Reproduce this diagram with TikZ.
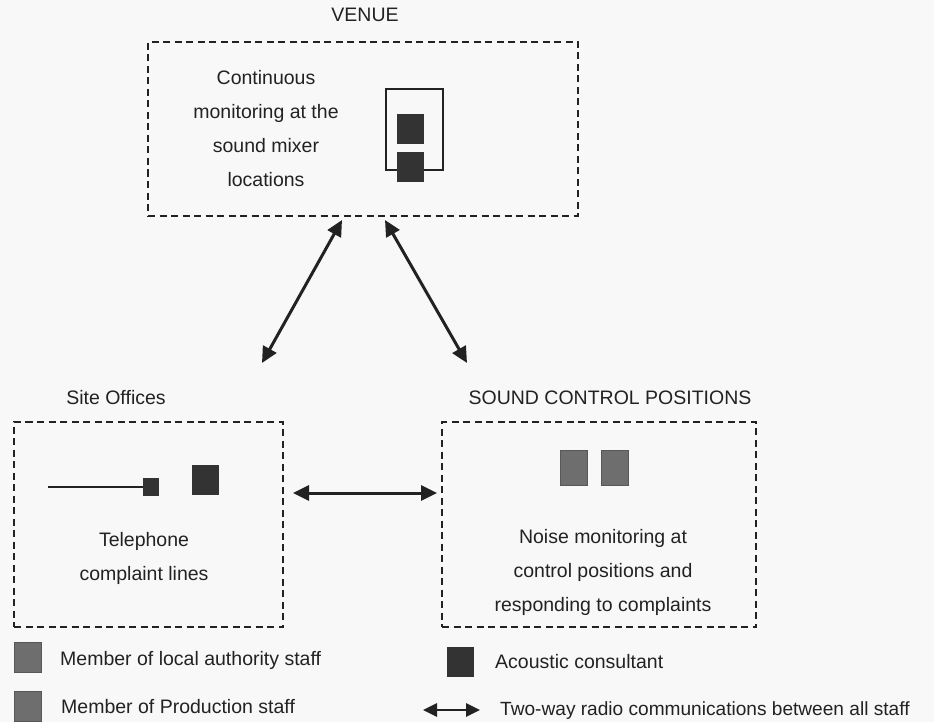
\documentclass[tikz,border=0pt]{standalone}
\usepackage{fontspec}
\setmainfont{Liberation Sans}
\usetikzlibrary{arrows.meta}
\definecolor{ink}{HTML}{222222}
\definecolor{consult}{HTML}{333333}
\definecolor{staff}{HTML}{6E6E6E}
\definecolor{paper}{HTML}{F8F8F8}
\begin{document}
\begin{tikzpicture}[x=1pt, y=-1pt,
  every node/.style={text=ink, font=\fontsize{19.5}{34}\selectfont},
  zone/.style={draw=ink, line width=2.2pt, dash pattern=on 7pt off 4.5pt, inner sep=0pt},
  consultant/.style={fill=consult, draw=none, minimum width=27pt, minimum height=30pt, inner sep=0pt},
  member/.style={fill=staff, draw=staff!80!black, line width=0.5pt, minimum width=27pt, minimum height=30pt, inner sep=0pt},
  radio/.style={draw=ink, line width=3pt, {Triangle[length=16pt,width=15pt]}-{Triangle[length=16pt,width=15pt]}},
  label/.style={align=center, inner sep=0pt}]
  \useasboundingbox[fill=paper] (0,0) rectangle (934,722);

  % venue
  \node[zone, minimum width=430pt, minimum height=174pt] (venue) at (363,129) {};
  \node[label] (venuetitle) at (365,15) {VENUE};
  \node[label] (venuetext) at (266,129) {Continuous\\monitoring at the\\sound mixer\\locations};
  \node[draw=ink, line width=2.4pt, minimum width=57pt, minimum height=81pt, inner sep=0pt] (mixer) at (414.5,129.5) {};
  \node[consultant] (mixerA) at (410.5,129) {};
  \node[consultant] (mixerB) at (410.5,167) {};

  % site offices
  \node[zone, minimum width=269pt, minimum height=205pt] (site) at (148.5,524.5) {};
  \node[label] (sitetitle) at (116,398) {Site Offices};
  \node[consultant, minimum width=16pt, minimum height=18pt] (phone) at (151,487) {};
  \coordinate (phoneline) at (48,487);
  \draw[ink, line width=2pt] (phoneline) -- (phone);
  \node[consultant] (siteconsult) at (205.5,480) {};
  \node[label] (sitetext) at (144,558) {Telephone\\complaint lines};

  % sound control positions
  \node[zone, minimum width=314pt, minimum height=205pt] (sound) at (599,524.5) {};
  \node[label] (soundtitle) at (610,398) {SOUND CONTROL POSITIONS};
  \node[member, minimum height=35pt] (soundA) at (573.5,467.5) {};
  \node[member, minimum height=35pt] (soundB) at (614.5,467.5) {};
  \node[label] (soundtext) at (603,572) {Noise monitoring at\\control positions and\\responding to complaints};

  % radio links
  \coordinate (venueL) at (342,220);
  \coordinate (venueR) at (385,220);
  \coordinate (siteup) at (262,363);
  \coordinate (soundup) at (467,363);
  \coordinate (siteside) at (293,493);
  \coordinate (soundside) at (437,493);
  \draw[radio] (venueL) -- (siteup);
  \draw[radio] (venueR) -- (soundup);
  \draw[radio] (siteside) -- (soundside);

  % key
  \node[member] (keyLA) at (28,657) {};
  \node[anchor=west, inner sep=0pt] (keyLAtext) at (60,660) {Member of local authority staff};
  \node[member] (keyProd) at (28,706) {};
  \node[anchor=west, inner sep=0pt] (keyProdtext) at (61,707) {Member of Production staff};
  \node[consultant] (keyAC) at (460.5,662) {};
  \node[anchor=west, inner sep=0pt] (keyACtext) at (495,662) {Acoustic consultant};
  \coordinate (keyradioL) at (423,710);
  \coordinate (keyradioR) at (480,710);
  \draw[draw=ink, line width=2.8pt, {Triangle[length=14pt,width=13pt]}-{Triangle[length=14pt,width=13pt]}] (keyradioL) -- (keyradioR);
  \node[anchor=west, inner sep=0pt, font=\fontsize{19.1}{34}\selectfont] (keyradiotext) at (500,711) {Two-way radio communications between all staff};
\end{tikzpicture}
\end{document}
